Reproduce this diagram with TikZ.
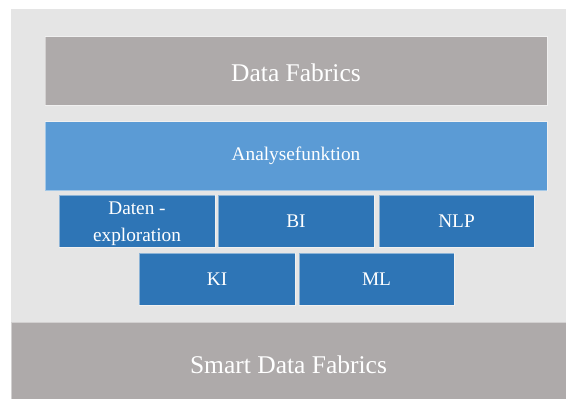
\documentclass[tikz,border=0pt]{standalone}
\usepackage{fontspec}
\setmainfont{Liberation Serif}
\newfontfamily\tnrfont{Liberation Serif}
\definecolor{bglight}{HTML}{E5E5E5}
\definecolor{fabgray}{HTML}{AEAAAA}
\definecolor{lightblue}{HTML}{5B9BD5}
\definecolor{darkblue}{HTML}{2E75B6}
\begin{document}
\begin{tikzpicture}[x=1pt,y=-1pt,
  box/.style={rectangle, inner sep=0pt, outer sep=0pt, draw=white, draw opacity=0.45, line width=0.8pt, text=white, align=center},
  bigtext/.style={font=\tnrfont\fontsize{25.5}{30}\selectfont},
  smalltext/.style={font=\tnrfont\fontsize{19.3}{26.7}\selectfont}]
\useasboundingbox (0,0) rectangle (567,399);
\node[rectangle, fill=bglight, inner sep=0pt, minimum width=555pt, minimum height=313pt] (bg) at (288.5,165.5) {};
\node[box, fill=fabgray, bigtext, text height=26.3pt, text depth=0pt, minimum width=555pt, minimum height=77pt] (smart) at (288.5,360.5) {Smart Data Fabrics};
\node[box, fill=fabgray, bigtext, text height=22.3pt, text depth=0pt, minimum width=502pt, minimum height=68.5pt] (df) at (296,70.75) {Data Fabrics};
\node[box, fill=lightblue, smalltext, minimum width=502pt, minimum height=69pt] (ana) at (296,156) {Analysefunktion};
\node[box, fill=darkblue, smalltext, text height=40pt, text depth=0pt, minimum width=156pt, minimum height=52pt] (daten) at (137,221) {Daten -\\exploration};
\node[box, fill=darkblue, smalltext, minimum width=156pt, minimum height=52pt] (bi) at (296,221) {BI};
\node[box, fill=darkblue, smalltext, minimum width=155pt, minimum height=52pt] (nlp) at (456.5,221) {NLP};
\node[box, fill=darkblue, smalltext, minimum width=156pt, minimum height=52pt] (ki) at (217,279) {KI};
\node[box, fill=darkblue, smalltext, minimum width=155pt, minimum height=52pt] (ml) at (376.5,279) {ML};
\end{tikzpicture}
\end{document}
